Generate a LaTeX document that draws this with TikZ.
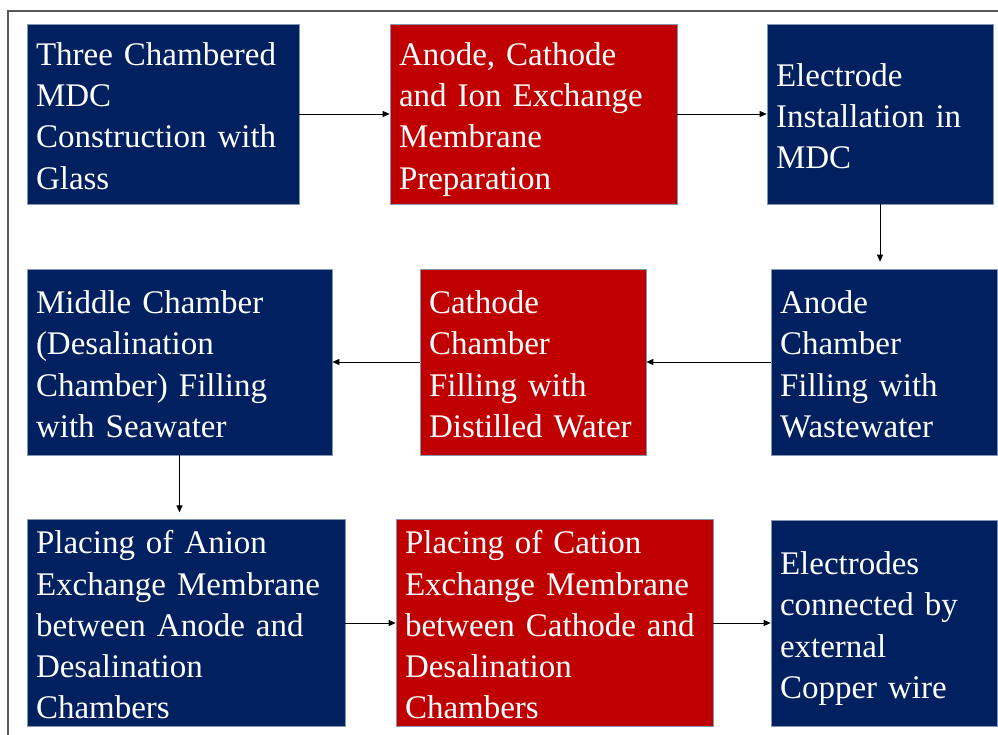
\documentclass[tikz,border=0pt]{standalone}
\usepackage{fontspec}
\setmainfont{Liberation Serif}
\usetikzlibrary{arrows.meta}
\definecolor{navy}{HTML}{002060}
\definecolor{dred}{HTML}{C00000}
\definecolor{edgeblue}{HTML}{8497B0}
\definecolor{framegray}{HTML}{595959}
\newcommand{\jstretch}[2]{\makebox[#1pt][s]{#2}}
\newcommand{\boxstrut}{\rule[-7.3pt]{0pt}{41.3pt}}
\tikzset{
  box/.style={draw=edgeblue, line width=0.7pt, text=white, align=left,
    inner xsep=0pt, inner ysep=0pt,
    font=\fontsize{33}{41.3}\selectfont,
    execute at begin node=\boxstrut, execute at end node=\boxstrut},
  bluebox/.style={box, fill=navy},
  redbox/.style={box, fill=dred},
  conn/.style={draw=black, line width=0.8pt, -{Triangle[length=7pt,width=6pt]}}
}
\begin{document}
\begin{tikzpicture}[x=1pt,y=-1pt]
\useasboundingbox (0,0) rectangle (998,735);
\clip (0,0) rectangle (998,735);
\draw[framegray, line width=1.3pt] (8,11) rectangle (1030,770);

% Row 1
\node[bluebox, minimum width=272pt, minimum height=180pt, text width=254pt] (b1) at (163,114)
  {\jstretch{244}{Three Chambered}\\ MDC\\ \jstretch{245}{Construction with}\\ Glass};
\node[redbox, minimum width=287pt, minimum height=180pt, text width=269pt] (b2) at (533.5,114)
  {\jstretch{219}{Anode, Cathode}\\ \jstretch{245}{and Ion Exchange}\\ Membrane\\ Preparation};
\node[bluebox, minimum width=226pt, minimum height=180pt, text width=208pt] (b3) at (880,114)
  {Electrode\\ \jstretch{187}{Installation in}\\ MDC};

% Row 2
\node[bluebox, minimum width=305pt, minimum height=186pt, text width=287pt] (b4) at (179.5,362)
  {\jstretch{232}{Middle Chamber}\\ (Desalination\\ \jstretch{233}{Chamber) Filling}\\ \jstretch{192}{with Seawater}};
\node[redbox, minimum width=226pt, minimum height=186pt, text width=208pt] (b5) at (533,362)
  {Cathode\\ Chamber\\ \jstretch{158}{Filling with}\\ \jstretch{204}{Distilled Water}};
\node[bluebox, minimum width=226pt, minimum height=186pt, text width=208pt] (b6) at (884,362)
  {Anode\\ Chamber\\ \jstretch{158}{Filling with}\\ Wastewater};

% Row 3
\node[bluebox, minimum width=318pt, minimum height=206pt, text width=300pt] (b7) at (186,623)
  {\jstretch{229}{Placing of Anion}\\ \jstretch{290}{Exchange Membrane}\\ \jstretch{270}{between Anode and}\\ Desalination\\ Chambers};
\node[redbox, minimum width=317pt, minimum height=206pt, text width=299pt] (b8) at (554.5,623)
  {\jstretch{238}{Placing of Cation}\\ \jstretch{290}{Exchange Membrane}\\ \jstretch{295}{between Cathode and}\\ Desalination\\ Chambers};
\node[bluebox, minimum width=226pt, minimum height=206pt, text width=208pt] (b9) at (884,623)
  {Electrodes\\ \jstretch{180}{connected by}\\ external\\ \jstretch{167}{Copper wire}};

% Connectors
\draw[conn] (b1.east) -- (b2.west);
\draw[conn] (b2.east) -- (b3.west);
\draw[conn, shorten >=7pt] (b3.south) -- (b3.south |- b6.north);
\draw[conn] (b6.west) -- (b6.west -| b5.east);
\draw[conn] (b5.west) -- (b5.west -| b4.east);
\draw[conn, shorten >=7pt] (b4.south) -- (b4.south |- b7.north);
\draw[conn] (b7.east) -- (b7.east -| b8.west);
\draw[conn] (b8.east) -- (b8.east -| b9.west);
\end{tikzpicture}
\end{document}
